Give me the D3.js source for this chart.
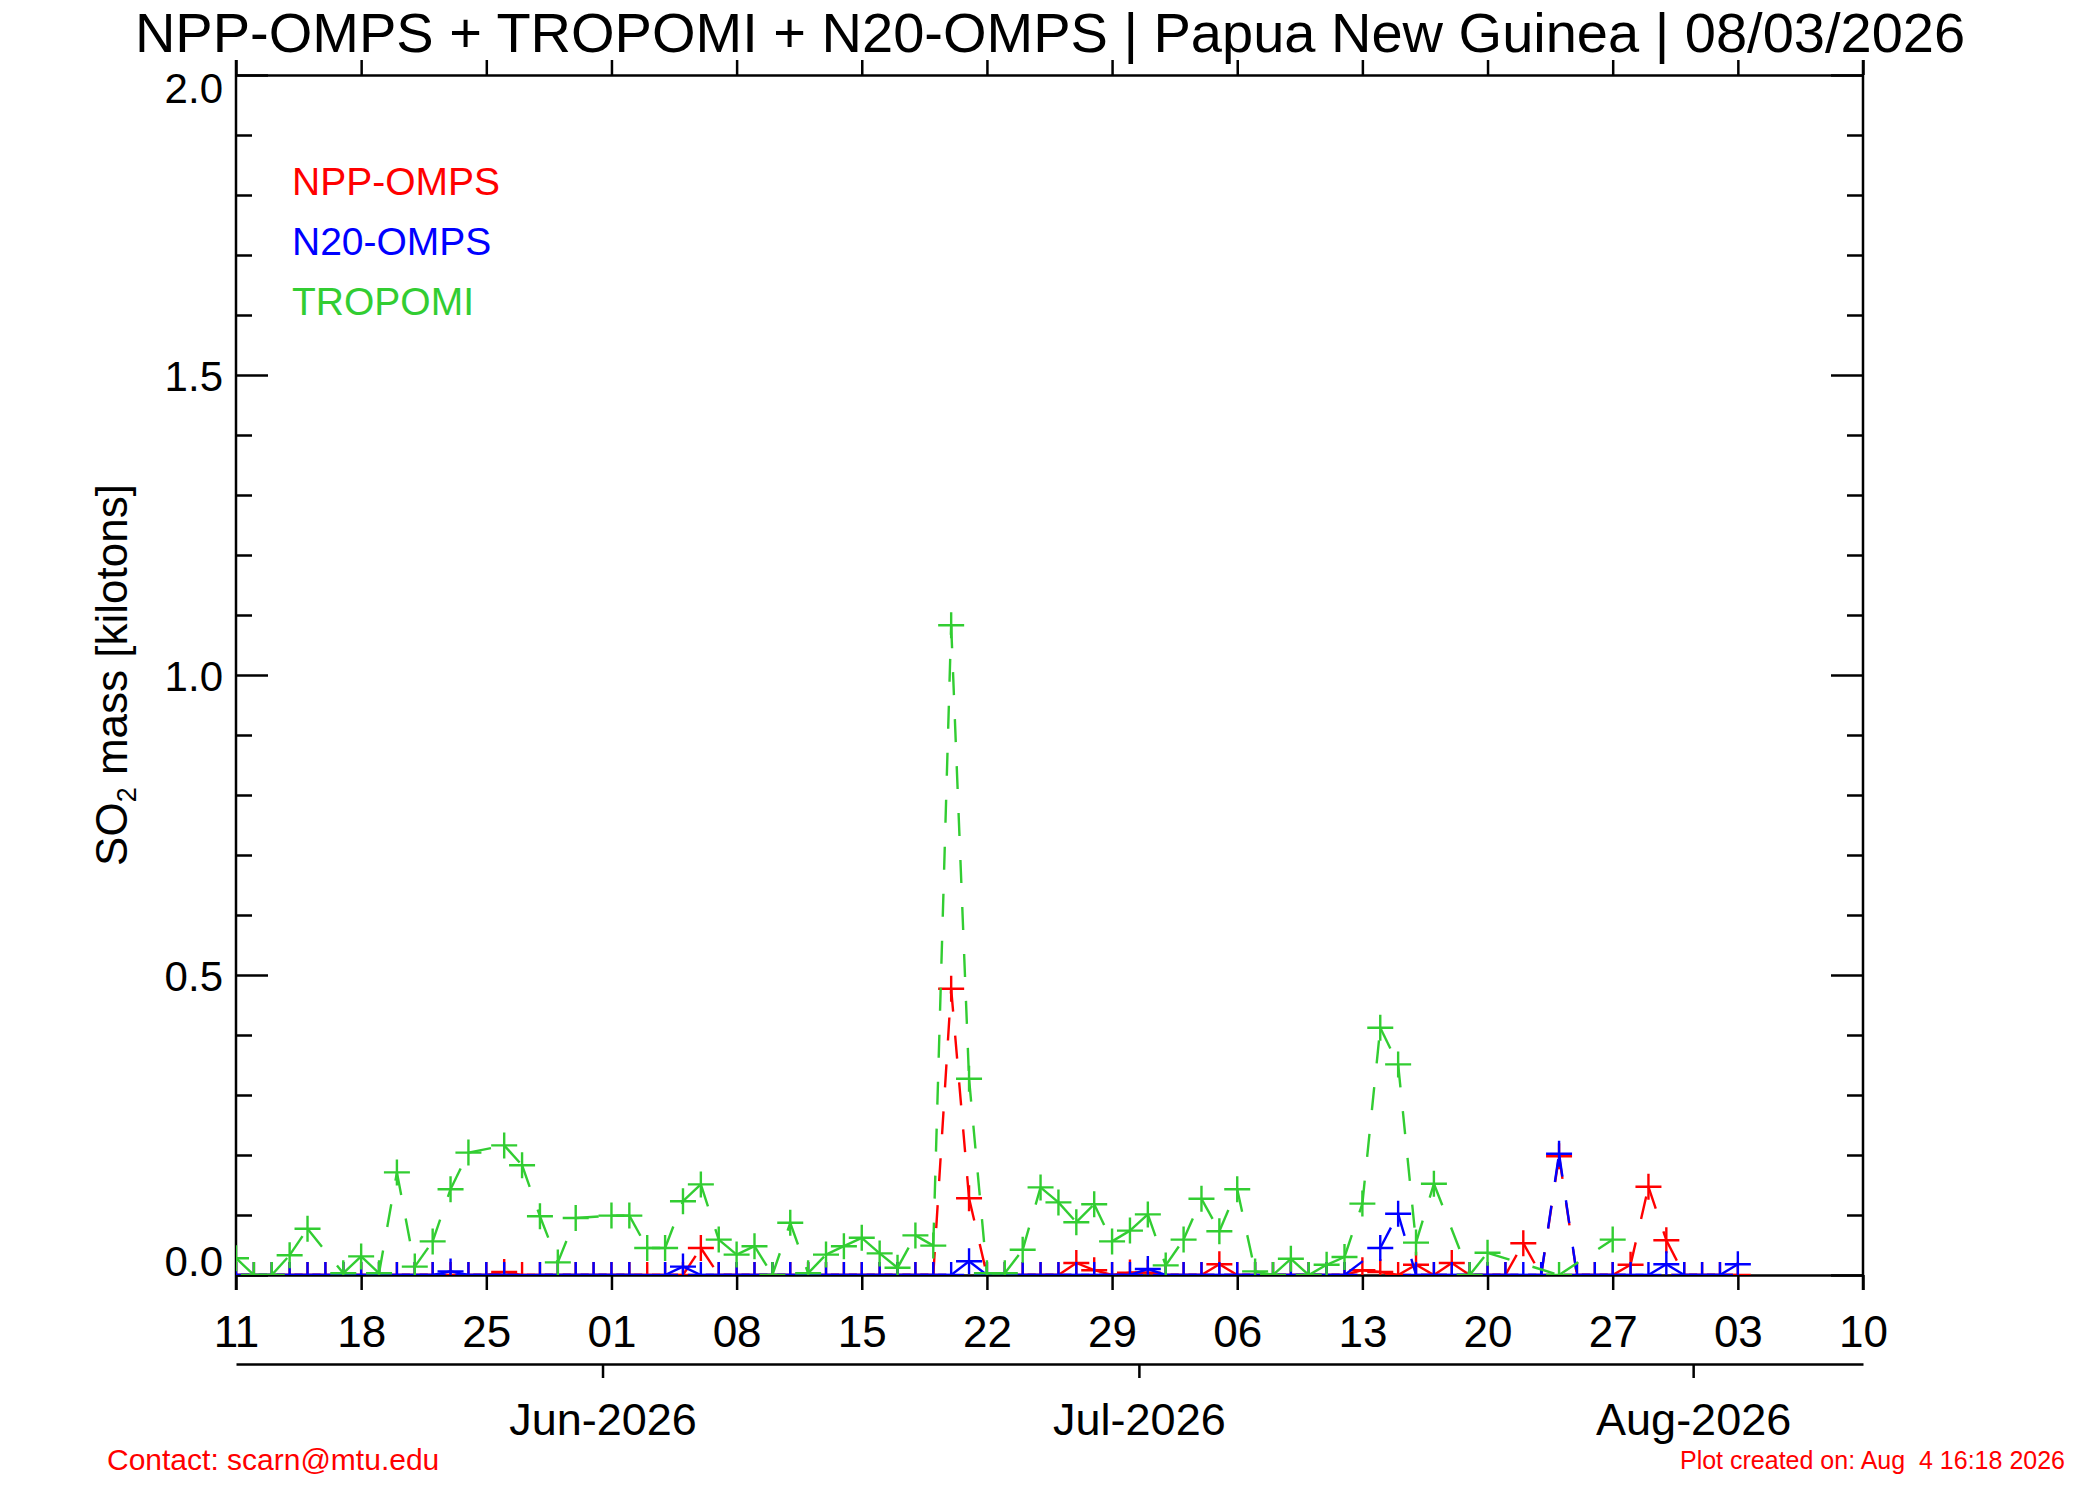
<!DOCTYPE html>
<html>
<head>
<meta charset="utf-8">
<script src="https://cdn.jsdelivr.net/npm/d3@7"></script>
<style>
  body { margin: 0; background: #fff; }
  text { font-family: "Liberation Sans", Arial, Helvetica, sans-serif; }
</style>
</head>
<body>
<div id="chart"></div>
<script>
// daily SO2 mass [kt], first value is 11 May 2026, one row per week, null = no retrieval
const START = '2026-05-11';
const END = '2026-08-10';

const NPP_OMPS = [
  0, 0, 0, 0, 0, 0, 0,
  0, 0, 0, 0, 0, 0, 0,
  0, 0.005, 0, 0, 0, 0, 0,
  0, 0, 0, 0, 0, 0.045, 0,
  0, 0, 0, 0, 0, 0, 0,
  0, 0, 0, 0, 0, 0.477, 0.128,
  0, 0, 0, 0, 0, 0.020, 0.008,
  0, 0.004, 0.004, 0, 0, 0, 0.018,
  0, 0, 0, 0, 0, 0, 0,
  0.008, 0.005, 0, 0.017, 0, 0.020, 0,
  0, 0, 0.053, 0, 0.198, 0, 0,
  0, 0.017, 0.147, 0.058, 0, 0, 0,
  0
];

const N20_OMPS = [
  0, 0, 0, 0, 0, 0, 0,
  0, 0, 0, 0, 0, 0.006, 0,
  0, 0, null, 0, 0, 0, 0,
  0, 0, null, 0, 0.014, 0, 0,
  0, 0, 0, 0, 0, 0, 0,
  0, 0, 0, 0, 0, 0, 0.023,
  0, 0, 0, 0, 0, 0, 0,
  0, 0, 0.010, 0, 0, 0, 0,
  0, 0, 0, 0, 0, 0, 0,
  null, 0.045, 0.102, 0, 0, 0, 0,
  0, 0, 0, 0, 0.202, 0, 0,
  0, 0, 0, 0.018, 0, 0, 0,
  0.018
];

const TROPOMI = [
  0.028, 0, 0, 0.033, 0.077, null, 0.003,
  0.031, 0.003, 0.171, 0.014, 0.056, 0.143, 0.204,
  null, 0.216, 0.183, 0.098, 0.021, 0.095, null,
  0.099, 0.099, 0.045, 0.045, 0.123, 0.151, 0.059,
  0.034, 0.048, 0, 0.087, 0.003, 0.034, 0.048,
  0.062, 0.036, 0.012, 0.066, 0.049, 1.083, 0.327,
  0.003, 0.003, 0.042, 0.146, 0.121, 0.088, 0.118,
  0.056, 0.074, 0.101, 0.016, 0.059, 0.127, 0.073,
  0.143, 0.006, 0, 0.027, 0, 0.017, 0.030,
  0.119, 0.412, 0.351, 0.054, 0.152, null, 0,
  0.037, null, null, null, 0, null, null,
  0.059
];

const SERIES_NAMES = ['NPP-OMPS', 'N20-OMPS', 'TROPOMI'];
const SERIES_COLORS = ['#ff0000', '#0000ff', 'rgb(50,205,50)'];
const Y_MAJOR = [0, 0.5, 1.0, 1.5, 2.0];

const TITLE = 'NPP-OMPS + TROPOMI + N20-OMPS | Papua New Guinea | 08/03/2026';
const CONTACT = 'Contact: scarn@mtu.edu';
const CREATED = 'Plot created on: Aug  4 16:18 2026';

const width = 2100;
const height = 1500;
const box = { left: 236, right: 1863, top: 75, bottom: 1275 };
const ext = 15;
const lw = 2.5;

const svg = d3.select('#chart').append('svg')
  .attr('width', width)
  .attr('height', height);

const t0 = d3.utcParse('%Y-%m-%d')(START);
const t1 = d3.utcParse('%Y-%m-%d')(END);

const x = d3.scaleUtc().domain([t0, t1]).range([box.left, box.right]);
const y = d3.scaleLinear().domain([0, 2]).range([box.bottom, box.top]);

function styleAxis(g) {
  g.selectAll('path, line').attr('stroke', '#000').attr('stroke-width', lw);
  g.selectAll('text')
    .attr('fill', '#000')
    .style('font-family', '"Liberation Sans", Arial, sans-serif');
}

// y axes, both sides, ticks inside
const minor = d3.range(0, 21).map((d) => d / 10).filter((d) => d * 2 % 1 !== 0);

const yLeft = svg.append('g').attr('transform', `translate(${box.left},0)`);
yLeft.append('g')
  .call(d3.axisLeft(y).tickValues(Y_MAJOR).tickSize(-32).tickPadding(13).tickFormat(d3.format('.1f')))
  .call(styleAxis)
  .call((g) => g.select('.domain').remove())
  .call((g) => g.selectAll('text')
    .attr('font-size', 42)
    .attr('dy', null)
    .attr('y', (d) => Math.min(Math.max(y(d) + 15, box.top + 27), box.bottom) - y(d)));
yLeft.append('g')
  .call(d3.axisLeft(y).tickValues(minor).tickSize(-16).tickFormat(''))
  .call(styleAxis)
  .call((g) => g.select('.domain').remove());

const yRight = svg.append('g').attr('transform', `translate(${box.right},0)`);
yRight.append('g')
  .call(d3.axisRight(y).tickValues(Y_MAJOR).tickSize(-32).tickFormat(''))
  .call(styleAxis)
  .call((g) => g.select('.domain').remove());
yRight.append('g')
  .call(d3.axisRight(y).tickValues(minor).tickSize(-16).tickFormat(''))
  .call(styleAxis)
  .call((g) => g.select('.domain').remove());

[box.left, box.right].forEach((xx) => {
  svg.append('line')
    .attr('x1', xx).attr('x2', xx)
    .attr('y1', box.top - ext).attr('y2', box.bottom + ext)
    .attr('stroke', '#000').attr('stroke-width', lw);
});

// weekly day axes, ticks outside
const weeks = d3.utcMonday.range(t0, d3.utcDay.offset(t1, 1));

svg.append('g')
  .attr('transform', `translate(0,${box.top})`)
  .call(d3.axisTop(x).tickValues(weeks).tickSize(ext).tickSizeOuter(0).tickFormat(''))
  .call(styleAxis);

svg.append('g')
  .attr('transform', `translate(0,${box.bottom})`)
  .call(d3.axisBottom(x).tickValues(weeks).tickSize(ext).tickSizeOuter(0).tickFormat(d3.utcFormat('%d')))
  .call(styleAxis)
  .call((g) => g.selectAll('text').attr('font-size', 44).attr('dy', null).attr('y', 72));

// month axis below
const months = d3.utcMonth.range(d3.utcDay.offset(t0, 1), t1).map((d) => d3.utcHour.offset(d, -12));

svg.append('g')
  .attr('transform', `translate(0,1364)`)
  .call(d3.axisBottom(x).tickValues(months).tickSize(14).tickSizeOuter(0)
    .tickFormat((d) => d3.utcFormat('%b-%Y')(d3.utcHour.offset(d, 12))))
  .call(styleAxis)
  .call((g) => g.selectAll('text').attr('font-size', 45).attr('dy', null).attr('y', 71));

// data
svg.append('clipPath').attr('id', 'plotclip')
  .append('rect')
  .attr('x', box.left).attr('y', box.top)
  .attr('width', box.right - box.left).attr('height', box.bottom - box.top);

const plot = svg.append('g').attr('clip-path', 'url(#plotclip)');

const allSeries = [NPP_OMPS, N20_OMPS, TROPOMI];
const arm = 13;

allSeries.forEach((vals, k) => {
  const pts = vals
    .map((v, i) => ({ date: d3.utcDay.offset(t0, i), v }))
    .filter((d) => d.v !== null);
  const g = plot.append('g').attr('stroke', SERIES_COLORS[k]).attr('stroke-width', 2.4).attr('fill', 'none');

  // IDL restarts the dash pattern on every segment
  g.selectAll('line')
    .data(d3.pairs(pts))
    .enter()
    .append('line')
    .attr('x1', (d) => x(d[0].date))
    .attr('y1', (d) => y(d[0].v))
    .attr('x2', (d) => x(d[1].date))
    .attr('y2', (d) => y(d[1].v))
    .attr('stroke-dasharray', '23 24');

  g.selectAll('path')
    .data(pts)
    .enter()
    .append('path')
    .attr('d', `M${-arm},0H${arm}M0,${-arm}V${arm}`)
    .attr('transform', (d) => `translate(${x(d.date)},${y(d.v)})`);
});

// legend
svg.append('g')
  .selectAll('text')
  .data(SERIES_NAMES)
  .enter()
  .append('text')
  .attr('x', 292)
  .attr('y', (d, i) => 195 + i * 60)
  .attr('font-size', 39)
  .attr('fill', (d, i) => SERIES_COLORS[i])
  .text((d) => d);

// titles
svg.append('text')
  .attr('x', 1050)
  .attr('y', 52)
  .attr('text-anchor', 'middle')
  .attr('font-size', 56)
  .text(TITLE);

const ylab = svg.append('text')
  .attr('transform', 'translate(127,675) rotate(-90)')
  .attr('text-anchor', 'middle')
  .attr('font-size', 44);
ylab.append('tspan').text('SO');
ylab.append('tspan').attr('font-size', 27).attr('dy', 9).text('2');
ylab.append('tspan').attr('dy', -9).text(' mass [kilotons]');

svg.append('text')
  .attr('x', 107)
  .attr('y', 1470)
  .attr('font-size', 30)
  .attr('fill', '#ff0000')
  .text(CONTACT);

svg.append('text')
  .attr('x', 2065)
  .attr('y', 1469)
  .attr('text-anchor', 'end')
  .attr('font-size', 25)
  .attr('fill', '#ff0000')
  .style('white-space', 'pre')
  .text(CREATED);
</script>
</body>
</html>
